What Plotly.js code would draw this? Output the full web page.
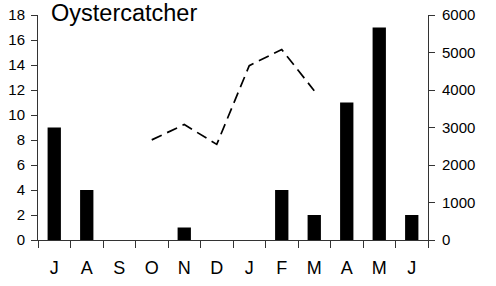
<!DOCTYPE html>
<html>
<head>
<meta charset="utf-8">
<script src="https://cdn.plot.ly/plotly-3.0.1.min.js"></script>
<style>html,body{margin:0;padding:0;background:#fff;}#chart{width:496px;height:286px;}</style>
</head>
<body>
<div id="chart"></div>
<script>
const categories = ["J","A","S","O","N","D","J ","F","M","A ","M ","J  "];
const tickLabels = ["J","A","S","O","N","D","J","F","M","A","M","J"];
const countValues = [9,4,0,0,1,0,0,4,2,11,17,2];
const lineValues = [null,null,null,2670,3080,2550,4650,5080,3980,null,null,null];
const titleText = "Oystercatcher";

const font = "Liberation Sans, Arial, sans-serif";
const axisColor = "#333";

const traces = [
  {type:"bar", x:categories, y:countValues, marker:{color:"#000", line:{width:0}}, width:0.41, yaxis:"y", hoverinfo:"none"},
  {type:"scatter", mode:"lines", x:categories, y:lineValues, yaxis:"y2",
   line:{color:"#000", width:1.7, dash:"11px,6px"}, connectgaps:false, hoverinfo:"none"}
];

const layout = {
  width:496, height:286,
  margin:{l:38, r:68, t:15, b:46, pad:0},
  paper_bgcolor:"#fff", plot_bgcolor:"#fff",
  showlegend:false,
  font:{family:font, color:"#000"},
  bargap:0.59,
  xaxis:{type:"category", tickmode:"array", tickvals:categories, ticktext:tickLabels,
    tickson:"boundaries", ticks:"outside", ticklen:7, tickcolor:axisColor, tickwidth:1,
    showline:true, linecolor:axisColor, linewidth:1, showgrid:false, zeroline:false,
    ticklabelstandoff:11,
    tickfont:{size:18, family:font}, range:[-0.5,11.5], fixedrange:true},
  yaxis:{range:[0,18], dtick:2, ticks:"outside", ticklen:6, tickcolor:axisColor,
    showline:true, linecolor:axisColor, linewidth:1, showgrid:false, zeroline:false,
    ticklabelstandoff:3,
    tickfont:{size:15, family:font}, fixedrange:true},
  yaxis2:{range:[0,6000], dtick:1000, overlaying:"y", side:"right", ticks:"outside", ticklen:6,
    tickcolor:axisColor, showline:true, linecolor:axisColor, linewidth:1, showgrid:false,
    ticklabelstandoff:4,
    zeroline:false, tickfont:{size:15, family:font}, fixedrange:true},
  annotations:[{text:titleText, xref:"paper", yref:"paper", x:(49-38)/390, y:1+2/225,
    xanchor:"left", yanchor:"middle", showarrow:false, font:{size:23.5, family:font, color:"#000"}}]
};

Plotly.newPlot("chart", traces, layout, {displayModeBar:false, staticPlot:true});
</script>
</body>
</html>
